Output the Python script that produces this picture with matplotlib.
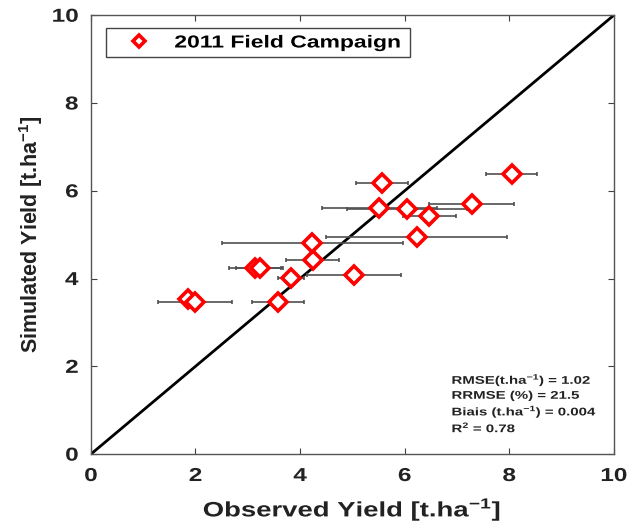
import matplotlib.pyplot as plt
import numpy as np
from matplotlib.patheffects import AbstractPathEffect
from matplotlib.transforms import Affine2D

plt.rcParams['font.family'] = ['Liberation Sans', 'DejaVu Sans']
plt.rcParams['mathtext.fontset'] = 'custom'
plt.rcParams['mathtext.bf'] = 'Liberation Sans:bold'
plt.rcParams['mathtext.rm'] = 'Liberation Sans:bold'

# observed vs simulated yield, 2011 campaign (t/ha)
observed = [1.85, 1.99, 3.14, 3.23, 3.83, 3.58, 4.24, 4.23, 5.03, 6.23, 5.51, 6.05, 6.47, 7.28, 5.57, 8.05]
simulated = [3.53, 3.47, 4.23, 4.23, 4.02, 3.47, 4.42, 4.80, 4.09, 4.95, 5.61, 5.58, 5.43, 5.69, 6.17, 6.39]
obs_err = [0.14, 0.71, 0.50, 0.45, 0.25, 0.50, 0.50, 1.73, 0.90, 1.73, 1.10, 1.15, 0.51, 0.81, 0.50, 0.49]

stats = ['RMSE(t.ha$^{-1}$) = 1.02', 'RRMSE (%) = 21.5', 'Biais (t.ha$^{-1}$) = 0.004', 'R$^{2}$ = 0.78']


class StretchX(AbstractPathEffect):
    # widen text horizontally (the original figure was exported stretched)
    def __init__(self, sx, anchor='center'):
        super().__init__()
        self.sx = sx
        self.anchor = anchor

    def draw_path(self, renderer, gc, tpath, affine, rgbFace=None):
        ext = affine.transform_path(tpath).get_extents()
        if self.anchor == 'left':
            cx = ext.x0
        elif self.anchor == 'right':
            cx = ext.x1
        else:
            cx = 0.5 * (ext.x0 + ext.x1)
        st = affine + Affine2D().translate(-cx, 0).scale(self.sx, 1).translate(cx, 0)
        renderer.draw_path(gc, tpath, st, rgbFace)


fig = plt.figure(figsize=(6.27, 5.25), dpi=100)
ax = fig.add_axes([0.145, 0.135, 0.834, 0.836])

ax.plot([0, 10], [0, 10], color='black', linewidth=2, zorder=2)
ax.errorbar(observed, simulated, xerr=obs_err, fmt='none', ecolor='#505050',
            elinewidth=1.2, capsize=1.5, capthick=1.2, zorder=3)
ax.plot(observed, simulated, linestyle='none', marker='D', markersize=9,
        markerfacecolor='white', markeredgecolor='red', markeredgewidth=2.6,
        label='2011 Field Campaign', zorder=4)

ax.set_xlim(0, 10)
ax.set_ylim(0, 10)
ax.set_xticks(np.arange(0, 11, 2))
ax.set_yticks(np.arange(0, 11, 2))
ax.tick_params(direction='in', top=True, right=True, length=4, width=0.8,
               color='#404040', labelsize=13.5)
ax.tick_params(axis='x', pad=10)
ax.tick_params(axis='y', pad=9)
for lab in ax.get_xticklabels():
    lab.set_fontweight('bold')
    lab.set_color('#222222')
    lab.set_path_effects([StretchX(1.3)])
for lab in ax.get_yticklabels():
    lab.set_fontweight('bold')
    lab.set_color('#222222')
    lab.set_path_effects([StretchX(1.3, 'right')])
for s in ax.spines.values():
    s.set_color('#555555')
    s.set_linewidth(1.0)

xl = ax.set_xlabel('Observed Yield [t.ha$^{-1}$]', fontsize=15, fontweight='bold', color='#222222', labelpad=8)
xl.set_path_effects([StretchX(1.32)])
ax.set_ylabel('Simulated Yield [t.ha$^{-1}$]', fontsize=15.5, fontweight='bold', color='#222222', labelpad=9)

leg = ax.legend(loc='upper left', bbox_to_anchor=(0.0287, 0.5, 0.581, 0.47), mode='expand',
                borderaxespad=0, prop={'weight': 'bold', 'size': 12.5}, fancybox=False,
                edgecolor='#444444', framealpha=1, handlelength=3.0,
                markerscale=0.65, borderpad=0.4, handletextpad=0.55)
leg.get_frame().set_linewidth(1.0)
for t in leg.get_texts():
    t.set_path_effects([StretchX(1.32, 'left')])

for i, t in enumerate(stats):
    txt = ax.text(0.69, 0.169 - i * 0.036, t, transform=ax.transAxes, fontsize=8,
                  fontweight='bold', color='#222222', va='center')
    txt.set_path_effects([StretchX(1.35, 'left')])

fig.savefig('out.png', dpi=100)
